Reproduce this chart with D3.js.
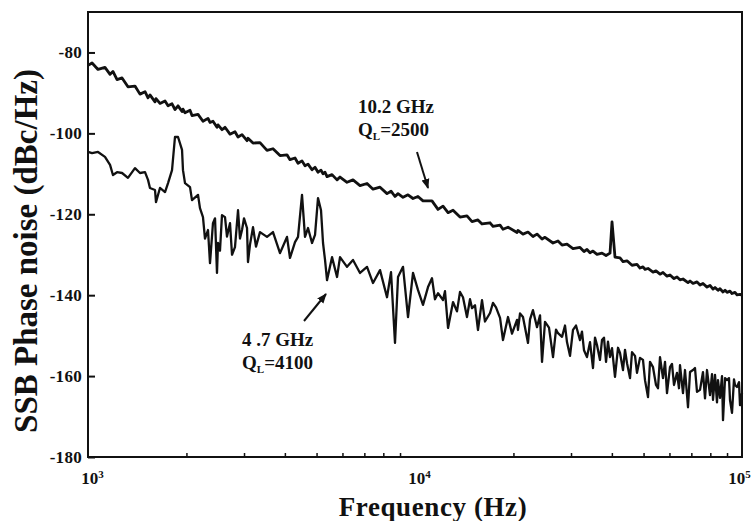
<!DOCTYPE html>
<html>
<head>
<meta charset="utf-8">
<script src="https://cdn.jsdelivr.net/npm/d3@7/dist/d3.min.js"></script>
<style>
  body { margin: 0; background: #fff; }
  svg { display: block; }
  text { font-family: "Liberation Serif", "Times New Roman", serif; font-weight: bold; fill: #111; }
</style>
</head>
<body>
<script>
// 10.2 GHz oscillator, QL = 2500: offset frequency (Hz) and SSB noise (dBc/Hz)
const freq10GHz = [
  1000, 1029, 1073, 1127, 1168, 1192, 1227, 1271, 1325, 1392,
  1442, 1494, 1526, 1547, 1603, 1614, 1660, 1720, 1757, 1807,
  1845, 1885, 1939, 1952, 1980, 2051, 2080, 2170, 2247, 2328,
  2361, 2411, 2480, 2498, 2569, 2624, 2718, 2815, 2876, 2958,
  3064, 3085, 3196, 3357, 3527, 3679, 3865, 4060, 4147, 4296,
  4388, 4513, 4609, 4708, 4842, 4946, 5051, 5159, 5233, 5307,
  5382, 5575, 5775, 5898, 6196, 6463, 6790, 7133, 7441, 7817,
  8211, 8446, 8687, 8873, 9191, 9520, 9861, 10210, 10580, 11270,
  11760, 12180, 12620, 13070, 13730, 14420, 14940, 15580, 16030, 16960,
  17320, 18200, 18580, 19250, 20510, 20650, 21390, 22160, 22950, 23610,
  24460, 24980, 26430, 27370, 28160, 29160, 30420, 31960, 32870, 33570,
  34290, 35020, 36020, 37310, 38390, 39480, 40040, 40890, 42360, 43260,
  44500, 46090, 47740, 48760, 49800, 50510, 51590, 53440, 54580, 56140,
  57330, 58970, 60230, 61950, 63270, 64620, 66000, 68370, 69350, 70820,
  72840, 74400, 75980, 78160, 79830, 81530, 82690, 84450, 85650, 87480,
  88740, 89980, 91900, 93200, 95190, 96540, 98600, 100000
];
const noise10GHz = [
  -83.2, -82.6, -84.2, -83.7, -85.4, -84.7, -86.7, -86.3, -88.5, -88.3,
  -90.3, -89.7, -91.2, -90.5, -92.2, -91.4, -92.6, -92.0, -93.2, -92.7,
  -94.1, -93.2, -94.6, -94.0, -94.9, -94.3, -95.6, -95.3, -97.0, -96.3,
  -97.3, -97.0, -98.5, -97.9, -99.1, -98.5, -100.2, -99.6, -100.9, -100.3,
  -101.8, -101.2, -102.4, -102.3, -104.2, -103.8, -105.5, -105.3, -106.5, -106.1,
  -107.4, -106.8, -108.0, -107.6, -109.0, -108.4, -109.6, -109.1, -110.0, -109.6,
  -110.7, -110.2, -111.5, -110.8, -112.1, -111.5, -112.9, -112.4, -113.8, -113.3,
  -114.9, -114.3, -115.6, -114.9, -115.8, -115.2, -116.1, -115.6, -116.7, -116.7,
  -118.8, -118.0, -119.6, -119.0, -120.7, -120.4, -121.8, -121.4, -122.4, -122.1,
  -123.0, -122.7, -123.7, -123.2, -124.5, -124.0, -124.9, -124.4, -125.5, -124.9,
  -126.1, -125.7, -127.1, -126.6, -127.6, -127.4, -128.5, -128.2, -129.2, -128.7,
  -129.5, -129.1, -129.9, -129.6, -130.2, -129.6, -121.9, -130.6, -130.8, -131.7,
  -131.5, -132.6, -132.4, -133.3, -133.0, -133.6, -133.4, -134.3, -134.0, -134.8,
  -134.4, -135.3, -135.0, -135.9, -135.5, -136.2, -136.0, -136.9, -136.5, -137.1,
  -136.7, -137.5, -137.1, -138.0, -137.6, -138.5, -138.1, -138.8, -138.4, -139.2,
  -138.8, -139.3, -139.0, -139.6, -139.3, -139.9, -139.8, -140.0
];

// 4.7 GHz oscillator, QL = 4100: offset frequency (Hz) and SSB noise (dBc/Hz)
const freq4GHz = [
  1000, 1029, 1073, 1127, 1168, 1192, 1227, 1271, 1325, 1392,
  1442, 1494, 1526, 1547, 1603, 1614, 1660, 1720, 1757, 1807,
  1845, 1885, 1939, 1952, 1980, 2051, 2080, 2170, 2200, 2247,
  2279, 2328, 2361, 2411, 2446, 2480, 2498, 2533, 2569, 2624,
  2661, 2718, 2757, 2815, 2876, 2916, 2958, 3000, 3064, 3085,
  3129, 3196, 3264, 3357, 3527, 3679, 3865, 4060, 4147, 4296,
  4388, 4513, 4609, 4708, 4842, 4946, 5051, 5159, 5233, 5307,
  5382, 5575, 5775, 5898, 6196, 6463, 6790, 7133, 7441, 7817,
  8211, 8446, 8687, 8873, 9191, 9520, 9861, 10210, 10580, 10960,
  11270, 11510, 11760, 12180, 12350, 12620, 13070, 13440, 13730, 14020,
  14420, 14730, 14940, 15260, 15580, 16030, 16370, 16960, 17320, 17690,
  18200, 18580, 19250, 19800, 20510, 20650, 20950, 21390, 22160, 22480,
  22950, 23610, 24120, 24460, 24980, 25690, 26430, 26990, 27370, 28160,
  28760, 29160, 29790, 30420, 31070, 31960, 32410, 32870, 33570, 34290,
  35020, 35520, 36020, 36790, 37310, 37840, 38390, 38920, 39480, 40040,
  40890, 41760, 42360, 43260, 43870, 44500, 45450, 46090, 47080, 47740,
  48760, 49800, 50510, 51590, 52320, 53440, 54580, 55350, 56140, 57330,
  58150, 58970, 60230, 61080, 61950, 63270, 64170, 64620, 66000, 66940,
  68370, 69350, 70820, 71820, 72840, 74400, 75980, 77070, 78160, 79830,
  80960, 81530, 82690, 83860, 84450, 85650, 86870, 87480, 88740, 89980,
  91250, 91900, 93200, 94520, 95190, 96540, 97910, 98600, 100000
];
const noise4GHz = [
  -104.6, -104.9, -104.6, -105.8, -107.8, -110.3, -109.6, -109.8, -111.0, -108.6,
  -109.8, -109.6, -111.5, -113.5, -114.0, -117.0, -113.5, -114.5, -112.3, -109.1,
  -100.9, -100.9, -104.1, -109.1, -112.3, -113.3, -116.5, -115.2, -118.5, -120.7,
  -126.0, -123.9, -132.1, -122.2, -121.0, -134.5, -127.1, -129.0, -120.2, -120.7,
  -125.5, -122.2, -130.0, -128.1, -119.0, -126.0, -123.9, -121.0, -123.4, -131.8,
  -127.5, -123.2, -128.0, -124.4, -125.6, -124.4, -129.6, -125.6, -130.8, -126.9,
  -125.6, -115.2, -125.6, -123.4, -127.1, -125.1, -116.0, -119.0, -127.1, -131.3,
  -136.3, -130.6, -135.5, -130.6, -133.0, -131.3, -134.5, -133.0, -137.0, -133.8,
  -140.5, -134.3, -151.8, -135.5, -133.0, -145.4, -134.5, -138.7, -142.4, -138.0,
  -135.8, -141.0, -139.5, -141.2, -139.0, -148.1, -141.7, -144.0, -139.2, -140.5,
  -145.4, -141.0, -143.2, -142.5, -148.6, -141.2, -146.5, -144.4, -141.9, -143.0,
  -145.6, -151.1, -145.4, -149.5, -146.1, -148.6, -144.5, -145.4, -151.8, -146.0,
  -143.7, -147.9, -145.0, -156.5, -146.6, -148.0, -155.3, -148.5, -149.4, -150.3,
  -147.5, -151.6, -155.0, -148.6, -147.5, -151.1, -149.0, -153.6, -155.3, -151.6,
  -158.0, -150.5, -152.3, -156.0, -151.1, -150.5, -156.5, -151.5, -155.3, -153.1,
  -160.2, -153.0, -154.3, -158.5, -153.5, -156.8, -160.5, -154.1, -155.0, -159.2,
  -155.5, -156.0, -161.0, -165.2, -156.5, -157.8, -162.2, -163.0, -155.3, -160.5,
  -156.5, -164.2, -157.8, -157.0, -162.2, -159.2, -163.0, -157.3, -164.2, -158.5,
  -167.7, -159.0, -158.5, -158.0, -163.9, -163.4, -159.0, -165.5, -158.5, -164.7,
  -159.5, -165.9, -159.7, -166.5, -161.0, -165.4, -160.0, -170.9, -160.5, -161.0,
  -160.5, -165.9, -169.1, -160.8, -162.2, -162.7, -161.5, -167.2, -164.2
];

const yTicks = [-80, -100, -120, -140, -160, -180];
const xTicks = [1e3, 1e4, 1e5];
const xTickExp = ["3", "4", "5"];
const xMinorTicks = [2e3, 3e3, 4e3, 5e3, 6e3, 7e3, 8e3, 9e3, 2e4, 3e4, 4e4, 5e4, 6e4, 7e4, 8e4, 9e4];

const width = 753, height = 521;
const margin = {top: 12, right: 11, bottom: 64, left: 88};
const serif = '"Liberation Serif", "Times New Roman", serif';

const x = d3.scaleLog().domain([1e3, 1e5]).range([margin.left, width - margin.right]);
const y = d3.scaleLinear().domain([-180, -70]).range([height - margin.bottom, margin.top]);

const svg = d3.select("body").append("svg")
  .attr("width", width)
  .attr("height", height);

function trace(freqs, values, strokeWidth) {
  const line = d3.line()
    .x((d, i) => x(freqs[i]))
    .y(d => y(d));
  svg.append("path")
    .datum(values)
    .attr("fill", "none")
    .attr("stroke", "#111")
    .attr("stroke-width", strokeWidth)
    .attr("stroke-linejoin", "round")
    .attr("d", line);
}

trace(freq4GHz, noise4GHz, 2.3);
trace(freq10GHz, noise10GHz, 2.8);

// frame
svg.append("rect")
  .attr("x", margin.left)
  .attr("y", margin.top)
  .attr("width", width - margin.left - margin.right)
  .attr("height", height - margin.top - margin.bottom)
  .attr("fill", "none")
  .attr("stroke", "#111")
  .attr("stroke-width", 2);

// y axis, ticks crossing the frame
const yAxis = svg.append("g")
  .attr("transform", "translate(" + margin.left + ",0)")
  .attr("font-family", serif)
  .call(d3.axisLeft(y).tickValues(yTicks).tickSize(4).tickPadding(2).tickFormat(d => String(d)));
yAxis.select(".domain").remove();
yAxis.selectAll(".tick line").attr("x2", 7).attr("stroke", "#111").attr("stroke-width", 2);
yAxis.selectAll(".tick text")
  .style("font-size", "17px")
  .style("letter-spacing", "0.3px")
  .attr("fill", "#111");

// x axis, minor ticks pointing inward
const xMinor = svg.append("g")
  .attr("transform", "translate(0," + (height - margin.bottom) + ")")
  .call(d3.axisBottom(x).tickValues(xMinorTicks).tickSize(-4).tickFormat(""));
xMinor.select(".domain").remove();
xMinor.selectAll(".tick line").attr("stroke", "#111").attr("stroke-width", 1.5);

const xAxis = svg.append("g")
  .attr("transform", "translate(0," + (height - margin.bottom) + ")")
  .attr("font-family", serif)
  .call(d3.axisBottom(x).tickValues(xTicks).tickSize(0).tickPadding(15).tickFormat(""));
xAxis.select(".domain").remove();
xAxis.selectAll(".tick text")
  .attr("dx", (d, i) => i === 2 ? -3 : 4)
  .style("font-size", "17px")
  .each(function(d, i) {
    const t = d3.select(this);
    t.append("tspan").text("10");
    t.append("tspan").attr("dy", -6).style("font-size", "11px").text(xTickExp[i]);
  });

// axis titles
svg.append("text")
  .attr("transform", "translate(37,251) rotate(-90)")
  .attr("text-anchor", "middle")
  .style("font-size", "33px")
  .text("SSB Phase noise (dBc/Hz)");

svg.append("text")
  .attr("x", 433)
  .attr("y", 516)
  .attr("text-anchor", "middle")
  .style("font-size", "27px")
  .style("letter-spacing", "0.6px")
  .text("Frequency (Hz)");

// annotations
svg.append("defs").append("marker")
  .attr("id", "head")
  .attr("viewBox", "0 0 10 10")
  .attr("refX", 9).attr("refY", 5)
  .attr("markerWidth", 5).attr("markerHeight", 5)
  .attr("orient", "auto")
  .append("path").attr("d", "M0,1 L10,5 L0,9 Z").attr("fill", "#111");

function label(lx, ly, top, qValue) {
  svg.append("text").attr("x", lx).attr("y", ly).style("font-size", "19px").text(top);
  const q = svg.append("text").attr("x", lx).attr("y", ly + 23).style("font-size", "19px");
  q.append("tspan").text("Q");
  q.append("tspan").attr("dy", 4).style("font-size", "11px").text("L");
  q.append("tspan").attr("dy", -4).text("=" + qValue);
}

label(358, 113, "10.2 GHz", "2500");
label(242, 346, "4 .7 GHz", "4100");

svg.append("line")
  .attr("x1", 417).attr("y1", 152).attr("x2", 428).attr("y2", 188)
  .attr("stroke", "#111").attr("stroke-width", 2)
  .attr("marker-end", "url(#head)");

svg.append("line")
  .attr("x1", 304).attr("y1", 321).attr("x2", 326).attr("y2", 294)
  .attr("stroke", "#111").attr("stroke-width", 2)
  .attr("marker-end", "url(#head)");
</script>
</body>
</html>
